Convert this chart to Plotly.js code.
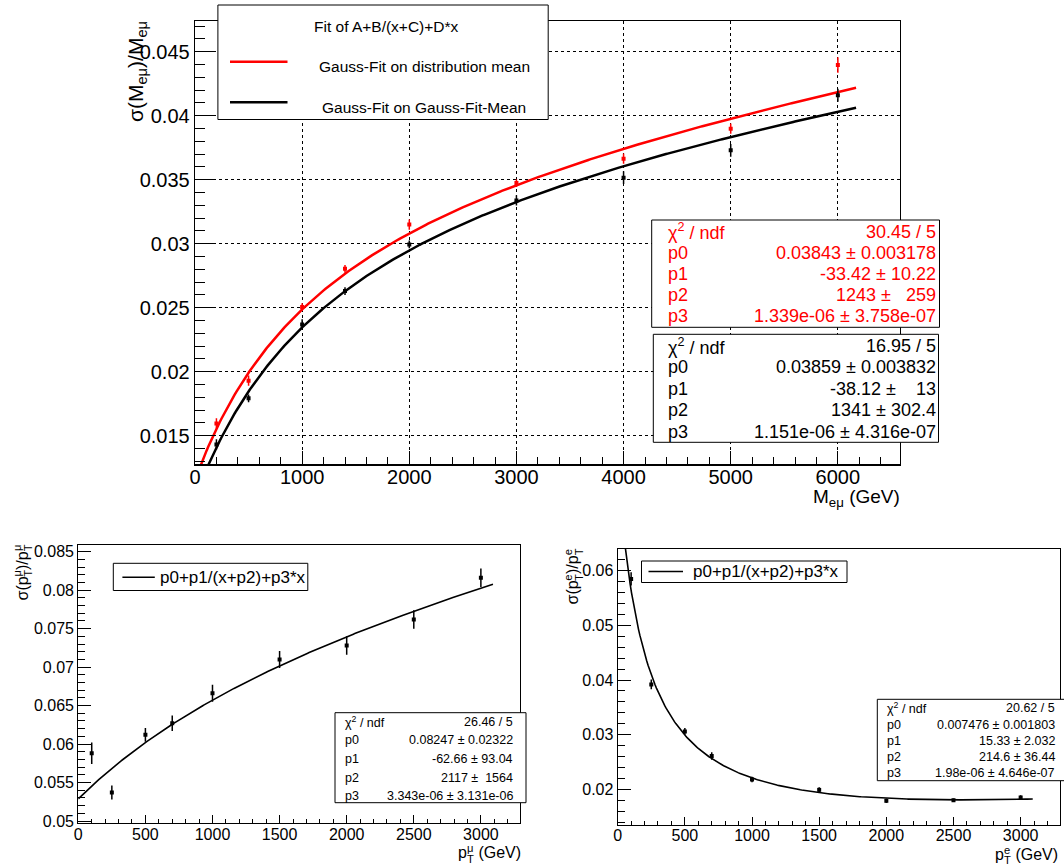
<!DOCTYPE html>
<html>
<head>
<meta charset="utf-8">
<script src="https://cdn.plot.ly/plotly-3.0.1.min.js"></script>
<style>
  html, body { margin: 0; padding: 0; background: #fff; }
  #chart { width: 1064px; height: 865px; }
</style>
</head>
<body>
<div id="chart"></div>
<script>
// ---------- Mass resolution vs M_emu ----------
const massPoints      = [200, 500, 1000, 1400, 2000, 3000, 4000, 5000, 6000];
const resMeanFit      = [0.01596, 0.0193, 0.02505, 0.02804, 0.0315, 0.03474, 0.03664, 0.03899, 0.04396];
const resMeanFitErr   = [0.0004, 0.0004, 0.0003, 0.0003, 0.0004, 0.0003, 0.0004, 0.0004, 0.0006];
const resGausFit      = [0.01432, 0.01792, 0.0237, 0.0263, 0.02995, 0.03338, 0.03516, 0.0373, 0.0416];
const resGausFitErr   = [0.0004, 0.0003, 0.0004, 0.0003, 0.0003, 0.0004, 0.0005, 0.0005, 0.0005];
const parsMeanFit     = [0.03843, -33.42, 1243, 1.339e-06];
const parsGausFit     = [0.03859, -38.12, 1341, 1.151e-06];
const massFitRange    = [0, 6170];

// ---------- pT resolution, muons ----------
const ptPoints        = [100, 250, 500, 700, 1000, 1500, 2000, 2500, 3000];
const resMuon         = [0.0588, 0.0537, 0.0612, 0.0627, 0.0666, 0.0710, 0.0728, 0.0762, 0.0816];
const resMuonErr      = [0.0014, 0.0009, 0.0009, 0.0010, 0.0011, 0.0011, 0.0012, 0.0012, 0.0012];
const parsMuon        = [0.08247, -62.66, 2117, 3.343e-06];

// ---------- pT resolution, electrons ----------
const resElectron     = [0.0585, 0.0392, 0.0306, 0.0261, 0.0218, 0.0199, 0.0179, 0.0180, 0.0185];
const resElectronErr  = [0.0012, 0.0009, 0.0006, 0.0007, 0.0005, 0.0005, 0.0004, 0.0003, 0.0004];
const parsElectron    = [0.007476, 15.33, 214.6, 1.98e-06];
const ptFitRange      = [0, 3090];

// ---------- fit result boxes ----------
const NB = '\u00a0';
const statLabels      = ['χ<sup>2</sup> / ndf', 'p0', 'p1', 'p2', 'p3'];
const statsMeanFit    = ['30.45 / 5', '0.03843 ± 0.003178', '-33.42 ± 10.22', '1243 ±' + NB + NB + NB + '259', '1.339e-06 ± 3.758e-07'];
const statsGausFit    = ['16.95 / 5', '0.03859 ± 0.003832', '-38.12 ±' + NB + NB + NB + NB + '13', '1341 ± 302.4', '1.151e-06 ± 4.316e-07'];
const statsMuon       = ['26.46 / 5', '0.08247 ± 0.02322', '-62.66 ± 93.04', '2117 ±' + NB + NB + '1564', '3.343e-06 ± 3.131e-06'];
const statsElectron   = ['20.62 / 5', '0.007476 ± 0.001803', '15.33 ± 2.032', '214.6 ± 36.44', '1.98e-06 ± 4.646e-07'];

const legendTitle     = 'Fit of A+B/(x+C)+D*x';
const legendMeanFit   = 'Gauss-Fit on distribution mean';
const legendGausFit   = 'Gauss-Fit on Gauss-Fit-Mean';
const legendPt        = 'p0+p1/(x+p2)+p3*x';

// ---------- page geometry (pixels) ----------
const W = 1064, H = 865;
const FONT = '"Liberation Sans", Arial, Helvetica, sans-serif';
const px = v => v / W;
const py = v => 1 - v / H;

// fit model A + B/(x+C) + D*x evaluated with the printed parameters
function fitCurve(p, range, n) {
  const xs = [], ys = [];
  for (let i = 0; i <= n; i++) {
    const x = range[0] + (range[1] - range[0]) * i / n;
    xs.push(x);
    ys.push(p[0] + p[1] / (x + p[2]) + p[3] * x);
  }
  return { xs, ys };
}

const fMean = fitCurve(parsMeanFit, massFitRange, 400);
const fGaus = fitCurve(parsGausFit, massFitRange, 400);
const fMu   = fitCurve(parsMuon, ptFitRange, 300);
const fEl   = fitCurve(parsElectron, ptFitRange, 300);

function points(x, y, err, color, xa, ya) {
  return {
    type: 'scatter', mode: 'markers', x, y, xaxis: xa, yaxis: ya,
    marker: { symbol: 'square', size: 4, color },
    error_y: { type: 'data', array: err, visible: true, color, thickness: 1.5, width: 0 },
    cliponaxis: true
  };
}
function curve(c, color, width, xa, ya) {
  return {
    type: 'scatter', mode: 'lines', x: c.xs, y: c.ys, xaxis: xa, yaxis: ya,
    line: { color, width, shape: 'linear' }
  };
}

const traces = [
  curve(fMean, '#ff0000', 2.5, 'x', 'y'),
  curve(fGaus, '#000000', 2.5, 'x', 'y'),
  points(massPoints, resMeanFit, resMeanFitErr, '#ff0000', 'x', 'y'),
  points(massPoints, resGausFit, resGausFitErr, '#000000', 'x', 'y'),
  curve(fMu, '#000000', 1.6, 'x2', 'y2'),
  points(ptPoints, resMuon, resMuonErr, '#000000', 'x2', 'y2'),
  curve(fEl, '#000000', 1.6, 'x3', 'y3'),
  points(ptPoints, resElectron, resElectronErr, '#000000', 'x3', 'y3')
];

function axis(o) {
  return {
    range: o.range, domain: o.domain, anchor: o.anchor,
    showline: true, linecolor: '#000', linewidth: o.lw || 1.3, mirror: true,
    ticks: 'inside', ticklen: o.len, tickwidth: 1, tickcolor: '#000',
    tick0: 0, dtick: o.dtick,
    minor: { ticks: 'inside', dtick: o.mdtick, ticklen: o.mlen, tickwidth: 1, tickcolor: '#000', showgrid: false },
    showgrid: !!o.grid, gridcolor: '#000', gridwidth: 1, griddash: 'dot',
    zeroline: false, fixedrange: true,
    tickfont: { family: FONT, size: o.fs, color: '#000' },
    ticklabelstandoff: o.standoff || 0
  };
}

// frame positions
const massFrame = { l: 195, r: 900, t: 21, b: 464.3 };
const muFrame   = { l: 78.3, r: 519.8, t: 545, b: 822.7 };
const elFrame   = { l: 617.7, r: 1059.6, t: 549, b: 825 };

const layout = {
  width: W, height: H, autosize: false,
  margin: { l: 0, r: 0, t: 0, b: 0, pad: 0 },
  paper_bgcolor: '#fff', plot_bgcolor: 'rgba(0,0,0,0)',
  showlegend: false, hovermode: false,
  font: { family: FONT, color: '#000' },
  xaxis: axis({ range: [0, 6580], domain: [px(massFrame.l), px(massFrame.r)], anchor: 'y', dtick: 1000, mdtick: 200, len: 13, mlen: 7, fs: 20, grid: true, standoff: -6 }),
  yaxis: axis({ range: [0.01277, 0.0474], domain: [py(massFrame.b), py(massFrame.t)], anchor: 'x', dtick: 0.005, mdtick: 0.001, len: 20, mlen: 10, fs: 20, grid: true }),
  xaxis2: axis({ range: [0, 3290], domain: [px(muFrame.l), px(muFrame.r)], anchor: 'y2', dtick: 500, mdtick: 100, len: 8, mlen: 4, fs: 16, lw: 1.1, standoff: -3 }),
  yaxis2: axis({ range: [0.04978, 0.08587], domain: [py(muFrame.b), py(muFrame.t)], anchor: 'x2', dtick: 0.005, mdtick: 0.001, len: 13, mlen: 7, fs: 16, lw: 1.1 }),
  xaxis3: axis({ range: [0, 3290], domain: [px(elFrame.l), px(elFrame.r)], anchor: 'y3', dtick: 500, mdtick: 100, len: 8, mlen: 4, fs: 16, lw: 1.1, standoff: -4 }),
  yaxis3: axis({ range: [0.01347, 0.06397], domain: [py(elFrame.b), py(elFrame.t)], anchor: 'x3', dtick: 0.01, mdtick: 0.002, len: 13, mlen: 7, fs: 16, lw: 1.1 }),
  shapes: [],
  annotations: []
};

// ---------- helpers for boxes and text ----------
function box(x0, y0, x1, y1, lw) {
  layout.shapes.push({
    type: 'rect', xref: 'paper', yref: 'paper', layer: 'above',
    x0: px(x0), x1: px(x1), y0: py(y1), y1: py(y0),
    line: { color: '#000', width: lw || 1 }, fillcolor: '#fff'
  });
}
function seg(x0, x1, y, color, width) {
  layout.shapes.push({
    type: 'line', xref: 'paper', yref: 'paper', layer: 'above',
    x0: px(x0), x1: px(x1), y0: py(y), y1: py(y),
    line: { color, width }
  });
}
function label(text, x, y, size, color, xanchor, extra) {
  layout.annotations.push(Object.assign({
    text, x: px(x), y: py(y), xref: 'paper', yref: 'paper',
    xanchor: xanchor || 'left', yanchor: 'middle', showarrow: false,
    borderpad: 0, borderwidth: 0,
    font: { family: FONT, size, color: color || '#000' }
  }, extra || {}));
}

// text with stacked super/subscripts (p with T below and a letter above)
const measureCtx = document.createElement('canvas').getContext('2d');
function textWidth(t, size) {
  measureCtx.font = size + 'px "Liberation Sans"';
  return measureCtx.measureText(t).width;
}
function stackedText(segs, o) {
  const fs = o.size, ss = fs * 0.7;
  const mid = (0.905 - 0.212) / 2;
  const widths = segs.map(s => s.t !== undefined ? textWidth(s.t, fs)
    : Math.max(textWidth(s.sup || '', ss), textWidth(s.sub || '', ss)));
  const total = widths.reduce((a, b) => a + b, 0);
  let off = 0;
  segs.forEach((s, i) => {
    const pieces = s.t !== undefined ? [{ txt: s.t, size: fs, shift: 0 }]
      : [{ txt: s.sup, size: ss, shift: 0.40 * fs }, { txt: s.sub, size: ss, shift: -0.27 * fs }];
    pieces.forEach(p => {
      const up = p.shift + mid * p.size;
      const ann = {
        text: p.txt.replace(/ /g, NB), xref: 'paper', yref: 'paper', showarrow: false,
        borderpad: 0, borderwidth: 0, font: { family: FONT, size: p.size, color: '#000' }
      };
      if (o.rot) {
        Object.assign(ann, { x: px(o.x - up), y: py(o.y + total - off), xanchor: 'center', yanchor: 'bottom', textangle: -90 });
      } else {
        Object.assign(ann, { x: px(o.x - total + off), y: py(o.y - up), xanchor: 'left', yanchor: 'middle' });
      }
      layout.annotations.push(ann);
    });
    off += widths[i];
  });
}

// ---------- top panel: legend ----------
box(217.9, 5, 548.2, 119.5);
label(legendTitle, 387, 26.7, 15.5, '#000', 'center');
seg(230, 287.5, 61.7, '#ff0000', 2.5);
label(legendMeanFit, 424.5, 66.3, 15.5, '#000', 'center');
seg(230, 287.5, 102.3, '#000000', 2.5);
label(legendGausFit, 424.1, 107.5, 15.5, '#000', 'center');

// ---------- fit result boxes ----------
function statsBox(rect, values, color, xl, xr, y0, dy, size) {
  box(rect[0], rect[1], rect[2], rect[3]);
  values.forEach((v, i) => {
    label(statLabels[i], xl, y0 + i * dy, size, color, 'left');
    label(v, xr, y0 + i * dy, size, color, 'right');
  });
}
statsBox([651.7, 220, 939.5, 327.3], statsMeanFit, '#ff0000', 667.7, 935.7, 231.5, 21.2, 18);
statsBox([653.3, 334.3, 938.5, 442.3], statsGausFit, '#000000', 667.7, 935.7, 346, 21.4, 18);
statsBox([335, 712.7, 526, 802.7], statsMuon, '#000000', 345, 513.3, 721.7, 18.6, 12.5);
statsBox([877.3, 699.3, 1070, 780.7], statsElectron, '#000000', 886.7, 1055, 708.3, 16.25, 12.5);

// ---------- bottom legends ----------
box(113.3, 563.3, 307.8, 590.5);
seg(122.4, 154.8, 577.3, '#000', 1.6);
label(legendPt, 160, 577.5, 17, '#000', 'left');
box(641.5, 561, 847, 582.5);
seg(648.5, 683, 571.5, '#000', 1.6);
label(legendPt, 692.8, 571.7, 17, '#000', 'left');

// ---------- axis titles ----------
label('σ(M<sub>eμ</sub>)/M<sub>eμ</sub>', 137, 21.5, 21, '#000', 'center', { yanchor: 'top', textangle: -90 });
label('M<sub>eμ</sub> (GeV)', 900, 498, 19, '#000', 'right');
stackedText([{ t: 'σ(p' }, { sup: 'μ', sub: 'T' }, { t: ')/p' }, { sup: 'μ', sub: 'T' }], { x: 27.5, y: 544, size: 16, rot: true });
stackedText([{ t: 'σ(p' }, { sup: 'e', sub: 'T' }, { t: ')/p' }, { sup: 'e', sub: 'T' }], { x: 578.3, y: 548.3, size: 16, rot: true });
stackedText([{ t: 'p' }, { sup: 'μ', sub: 'T' }, { t: ' (GeV)' }], { x: 521, y: 858.5, size: 16 });
stackedText([{ t: 'p' }, { sup: 'e', sub: 'T' }, { t: ' (GeV)' }], { x: 1058, y: 860, size: 16 });

Plotly.newPlot('chart', traces, layout, { staticPlot: true, displayModeBar: false });
</script>
</body>
</html>
